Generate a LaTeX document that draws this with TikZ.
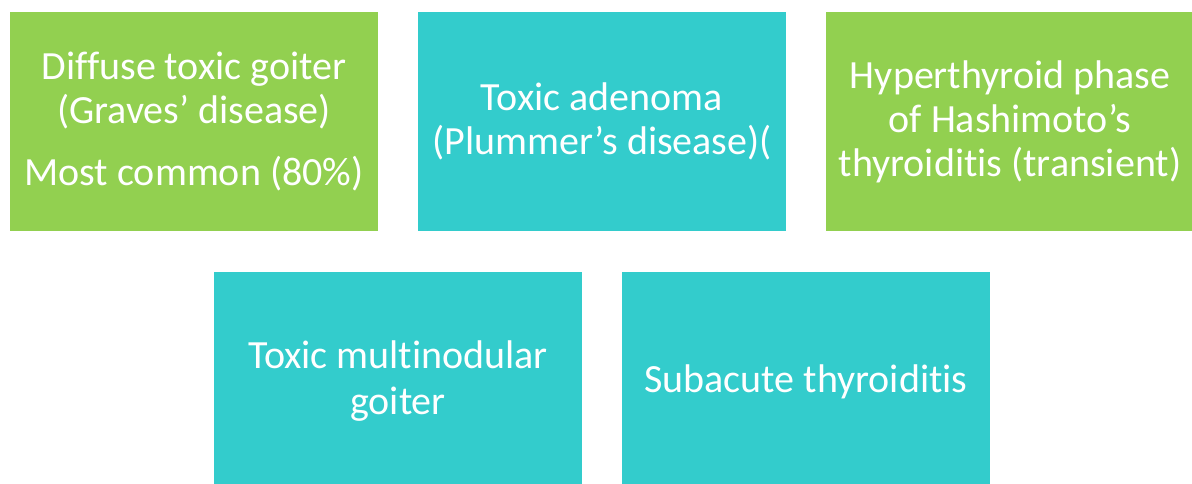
\documentclass[tikz,border=0pt]{standalone}
\usepackage{fontspec}
\setmainfont{Carlito}[Ligatures=CommonOff]
\definecolor{boxgreen}{HTML}{92D050}
\definecolor{boxteal}{HTML}{33CCCC}
\begin{document}
\begin{tikzpicture}[x=1pt,y=1pt,
  card/.style={rectangle, minimum width=368pt, minimum height=219pt, inner sep=0pt,
    text=white, align=center, font=\fontsize{40}{44}\selectfont},
  greencard/.style={card, fill=boxgreen},
  tealcard/.style={card, fill=boxteal}]
\useasboundingbox (0,0) rectangle (1192,-484);
\clip (0,0) rectangle (1192,-484);
\node[greencard] (graves) at (194,-121.5) {Diffuse toxic goiter\\(Graves’ disease)\\[18pt]Most common (80\%)};
\node[tealcard] (plummer) at (602,-121.5) {Toxic adenoma\\(Plummer’s disease)(};
\node[greencard] (hashi) at (1010,-121.5) {Hyperthyroid phase\\of Hashimoto’s\\thyroiditis (transient)};
\node[tealcard] (multi) at (398,-381.5) {Toxic multinodular\\[2pt]goiter};
\node[tealcard] (subacute) at (806,-381.5) {Subacute thyroiditis};
\end{tikzpicture}
\end{document}
